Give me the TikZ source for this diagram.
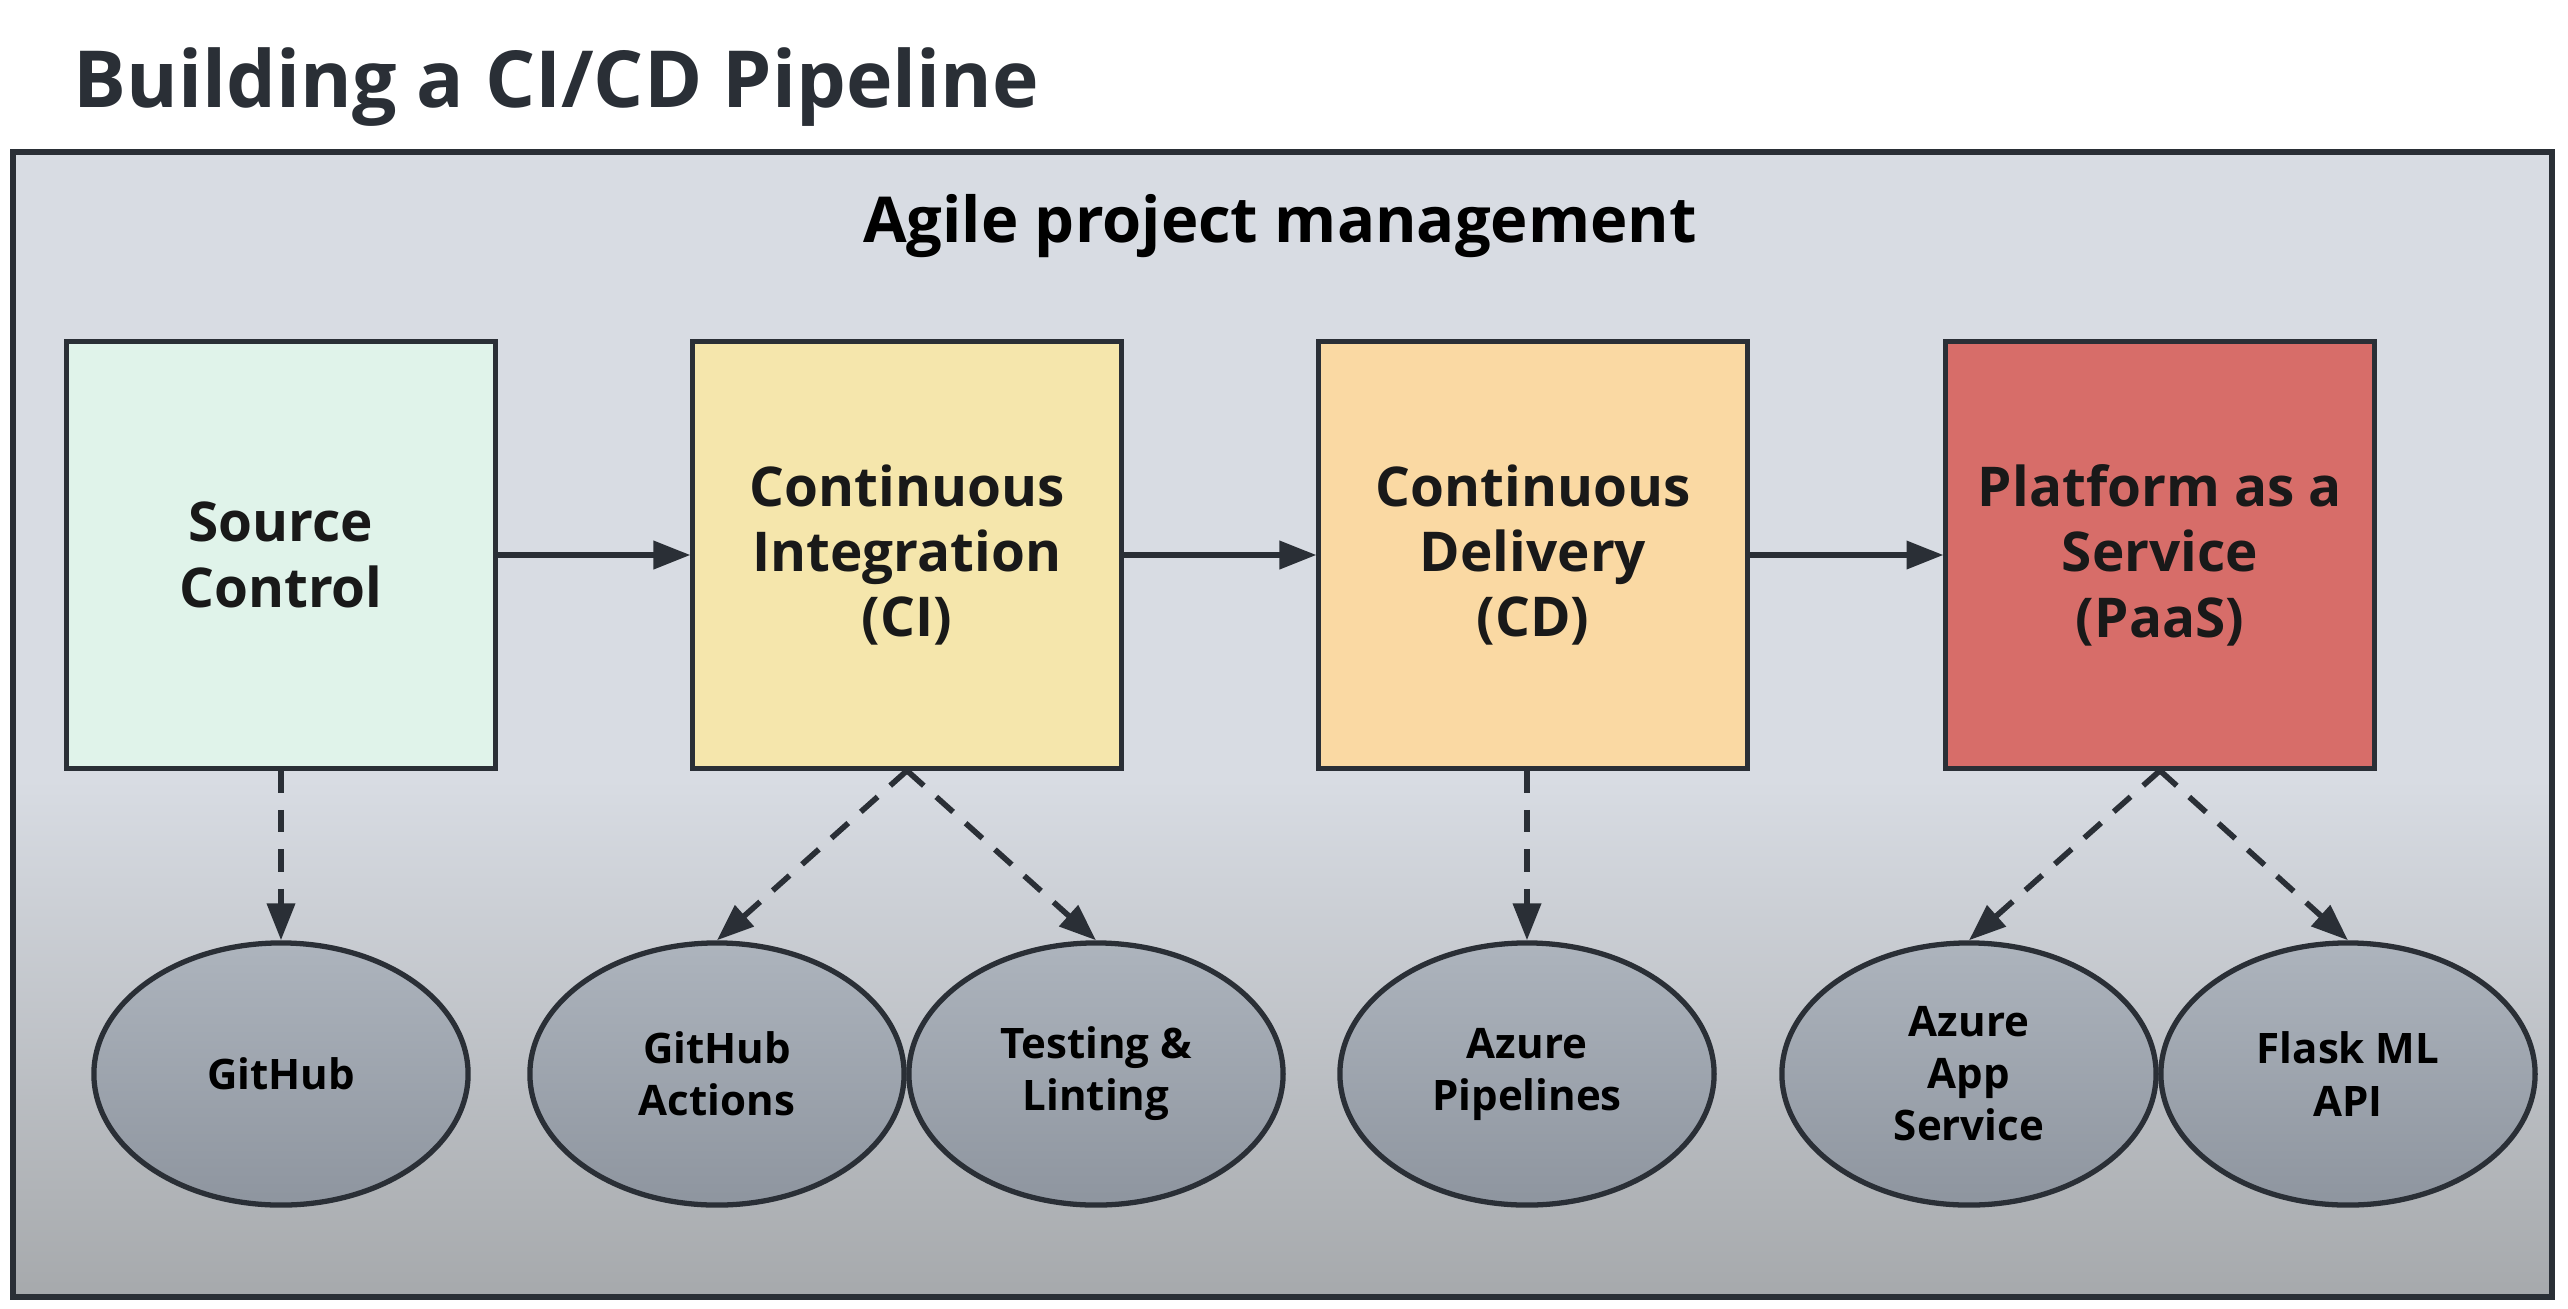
\documentclass[tikz,border=0pt]{standalone}
\usepackage{fontspec}
\setsansfont{Open Sans}
\renewcommand{\familydefault}{\sfdefault}
\usetikzlibrary{arrows.meta,shapes.geometric}
\definecolor{linegray}{HTML}{2A2F36}
\definecolor{titlegray}{HTML}{2A2F36}
\definecolor{framebg}{HTML}{D8DCE3}
\definecolor{framebot}{HTML}{A6A9AC}
\definecolor{ovaltop}{HTML}{ADB4BD}
\definecolor{ovalbot}{HTML}{8E959F}
\definecolor{srcfill}{HTML}{E0F3EA}
\definecolor{cifill}{HTML}{F5E6AC}
\definecolor{cdfill}{HTML}{FAD9A3}
\definecolor{paasfill}{HTML}{D76D69}
\tikzset{
    box_node/.style = {rectangle, draw=linegray, line width=1.4pt, minimum width=4.28cm, minimum height=4.26cm, align=center, text=black!90, font=\fontsize{15.6}{18.6}\selectfont\bfseries},
    oval_node/.style = {ellipse, draw=linegray, line width=1.5pt, minimum width=3.74cm, minimum height=2.62cm, inner sep=0pt, top color=ovaltop, bottom color=ovalbot, align=center, text=black, font=\fontsize{11.95}{14.8}\selectfont\bfseries},
    flow_arrow/.style = {draw=linegray, line width=1.6pt, -{Triangle[length=10.5pt, width=7.8pt]}},
    dash_arrow/.style = {flow_arrow, dash pattern=on 6.4pt off 4.8pt}
}

\begin{document}
\begin{tikzpicture}[x=0.01cm, y=-0.01cm]
    \useasboundingbox[fill=white] (0,0) rectangle (2568,1308);
    % frame
    \fill[framebg] (13,152) rectangle (2552,780);
    \shade[top color=framebg, bottom color=framebot] (13,779) rectangle (2552,1297);
    \draw[linegray, line width=1.5pt] (13,152) rectangle (2552,1297);
    \node (title) [anchor=base west, text=titlegray, font=\fontsize{22.4}{27}\selectfont\bfseries, inner sep=0pt] at (73,107) {Building a CI/CD Pipeline};
    \node (agile) [anchor=base, font=\fontsize{18}{22}\selectfont\bfseries, inner sep=0pt] at (1280,242) {Agile project management};
    % pipeline stages
    \node (src)  [box_node, fill=srcfill]  at (281,555)  {Source\\Control};
    \node (ci)   [box_node, fill=cifill]   at (907,555)  {Continuous\\Integration\\(CI)};
    \node (cd)   [box_node, fill=cdfill]   at (1533,555) {Continuous\\Delivery\\(CD)};
    \node (paas) [box_node, fill=paasfill] at (2160,555) {Platform as a\\Service\\(PaaS)};
    % tools
    \node (github)    [oval_node] at (281,1074)  {GitHub};
    \node (actions)   [oval_node] at (717,1074)  {GitHub\\Actions};
    \node (testing)   [oval_node] at (1096,1074) {Testing \&\\Linting};
    \node (pipelines) [oval_node] at (1527,1074) {Azure\\Pipelines};
    \node (appsvc)    [oval_node] at (1969,1074) {Azure\\App\\Service};
    \node (flask)     [oval_node] at (2348,1074) {Flask ML\\API};
    % connectors
    \draw[flow_arrow] (src) -- (ci);
    \draw[flow_arrow] (ci) -- (cd);
    \draw[flow_arrow] (cd) -- (paas);
    \draw[dash_arrow] (src.south) -- (github.north);
    \draw[dash_arrow] (ci.south) -- (actions.north);
    \draw[dash_arrow] (ci.south) -- (testing.north);
    \draw[dash_arrow] (pipelines.north |- cd.south) -- (pipelines.north);
    \draw[dash_arrow] (paas.south) -- (appsvc.north);
    \draw[dash_arrow] (paas.south) -- (flask.north);
\end{tikzpicture}
\end{document}
